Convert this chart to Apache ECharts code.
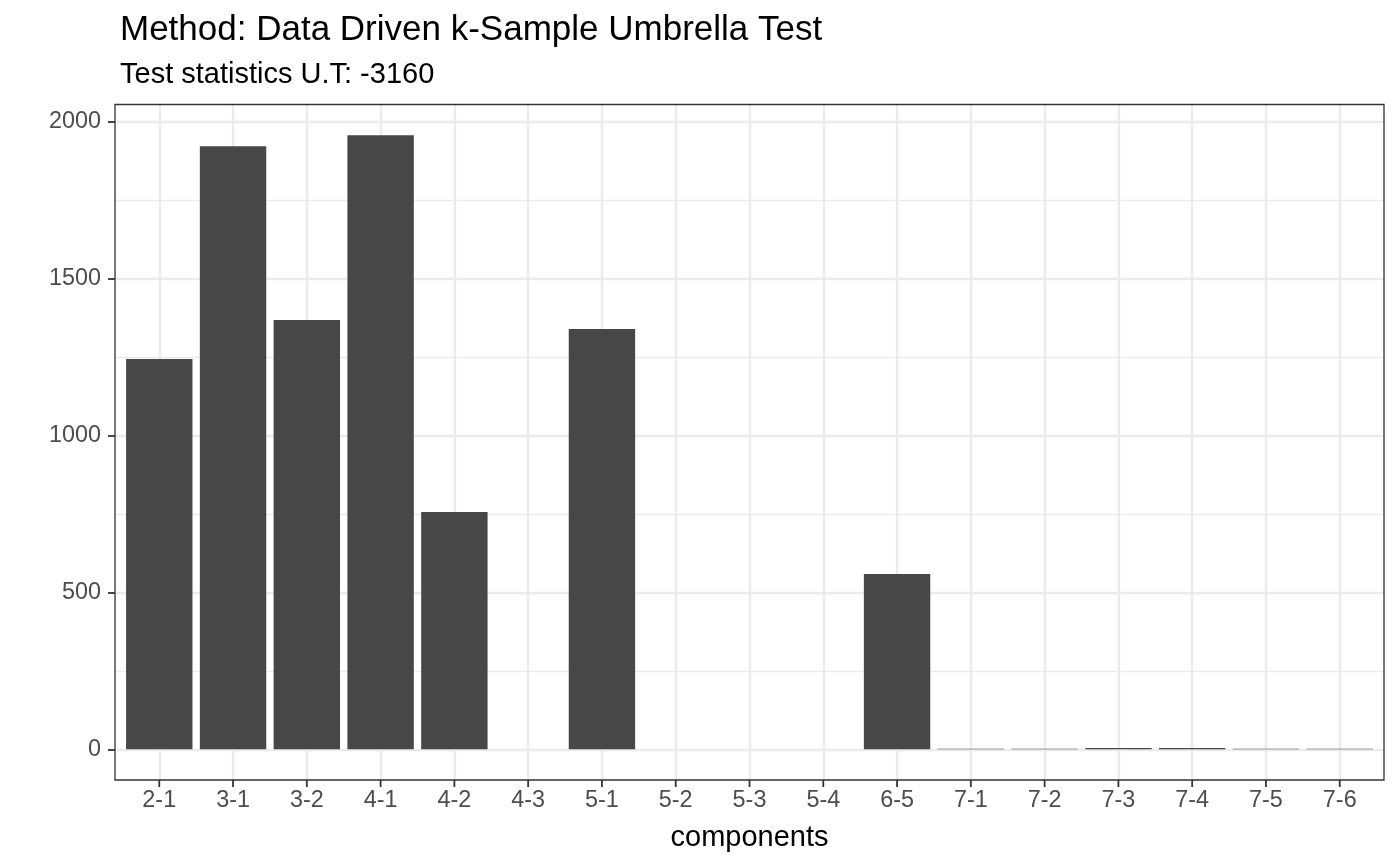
<!DOCTYPE html>
<html>
<head>
<meta charset="utf-8">
<script src="https://cdn.jsdelivr.net/npm/echarts@6/dist/echarts.min.js"></script>
<style>
html,body{margin:0;padding:0;background:#fff;}
#chart{width:1400px;height:866px;}
</style>
</head>
<body>
<div id="chart"></div>
<script>
const categories = ['2-1','3-1','3-2','4-1','4-2','4-3','5-1','5-2','5-3','5-4','6-5','7-1','7-2','7-3','7-4','7-5','7-6'];
const values = [1243, 1921, 1367, 1956, 756, 0, 1339, 0, 0, 0, 558, 2, 2, 4, 4, 2, 2];
const yMajorTicks = [0, 500, 1000, 1500, 2000];
const yMinorTicks = [250, 750, 1250, 1750];
const yMin = -97.8, yMax = 2053.8;
const titleText = 'Method: Data Driven k-Sample Umbrella Test';
const subtitleText = 'Test statistics U.T: -3160';
const xAxisTitle = 'components';

// category positions on a continuous scale (ggplot discrete scale: 1..n, expanded by 0.6)
const catPositions = categories.map(function (c, i) { return i + 1; });
const xMin = 0.4, xMax = categories.length + 0.6;

const W = 1400, H = 866;
const panel = {left: 115, right: 1384, top: 104.5, bottom: 780};
const tickLen = 7;
const band = (panel.right - panel.left) / (xMax - xMin);
const inset = (0.6 - 0.5) * band;
const FONT = '"Liberation Sans", Arial, Helvetica, sans-serif';

const chart = echarts.init(document.getElementById('chart'), null, {renderer: 'canvas'});
const gridBase = {
  top: panel.top, bottom: H - panel.bottom, outerBoundsMode: 'none', containLabel: false
};
chart.setOption({
  backgroundColor: '#ffffff',
  animation: false,
  textStyle: {fontFamily: FONT},
  title: [
    {text: titleText, left: 115, top: 8, textStyle: {fontFamily: FONT, fontSize: 35, fontWeight: 'normal', color: '#000'}},
    {text: subtitleText, left: 115, top: 55, textStyle: {fontFamily: FONT, fontSize: 29, fontWeight: 'normal', color: '#000'}}
  ],
  grid: [
    Object.assign({left: panel.left, right: W - panel.right, show: true, borderColor: '#333333', borderWidth: 1.3, backgroundColor: 'transparent', z: 3}, gridBase),
    Object.assign({left: panel.left + inset, right: W - panel.right + inset}, gridBase)
  ],
  xAxis: [
    {
      type: 'value', gridIndex: 0, min: xMin, max: xMax,
      axisLine: {show: false, onZero: true, onZeroAxisIndex: 3},
      axisTick: {show: false, customValues: catPositions},
      axisLabel: {color: '#4D4D4D', fontSize: 23.4, fontFamily: FONT, margin: 9, customValues: catPositions,
        formatter: function (v) { return categories[Math.round(v) - 1] || ''; }},
      splitLine: {show: true, lineStyle: {color: '#EBEBEB', width: 2.4}},
      name: xAxisTitle, nameLocation: 'middle', nameGap: 43,
      nameTextStyle: {color: '#000', fontSize: 29, fontFamily: FONT}
    },
    {
      type: 'category', gridIndex: 1, data: categories, boundaryGap: true, show: false
    }
  ],
  yAxis: [
    {
      type: 'value', gridIndex: 0, min: yMin, max: yMax,
      axisLine: {show: false},
      axisTick: {show: true, length: tickLen, customValues: yMajorTicks, lineStyle: {color: '#333333', width: 1.8}},
      axisLabel: {color: '#4D4D4D', fontSize: 23.4, fontFamily: FONT, margin: 14, customValues: yMajorTicks,
        formatter: function (v) { return String(v); }},
      splitLine: {show: true, lineStyle: {color: '#EBEBEB', width: 2.4}},
      minorSplitLine: {show: false}
    },
    {
      type: 'value', gridIndex: 0, min: yMin, max: yMax, position: 'left',
      axisLine: {show: false},
      axisTick: {show: false, customValues: yMinorTicks},
      axisLabel: {show: false, customValues: yMinorTicks},
      splitLine: {show: true, lineStyle: {color: '#EBEBEB', width: 1.4}}
    },
    {
      type: 'value', gridIndex: 1, min: yMin, max: yMax, show: false
    },
    {
      type: 'value', gridIndex: 0, min: 1, max: 2, show: false
    }
  ],
  series: [
    {
      type: 'bar', xAxisIndex: 1, yAxisIndex: 2,
      data: values, barWidth: '90%',
      itemStyle: {color: '#474747'},
      z: 2
    },
    {
      // x-axis tick marks below the panel, placed through the x scale at each category position
      type: 'custom', xAxisIndex: 0, yAxisIndex: 0,
      silent: true, clip: false, z: 10,
      encode: {x: 0, y: 1},
      data: catPositions.map(function (p) { return [p, yMin]; }),
      renderItem: function (params, api) {
        const pt = api.coord([api.value(0), api.value(1)]);
        return {
          type: 'line',
          shape: {x1: pt[0], y1: pt[1], x2: pt[0], y2: pt[1] + tickLen},
          style: {stroke: '#333333', lineWidth: 1.8}
        };
      }
    }
  ]
});
</script>
</body>
</html>
